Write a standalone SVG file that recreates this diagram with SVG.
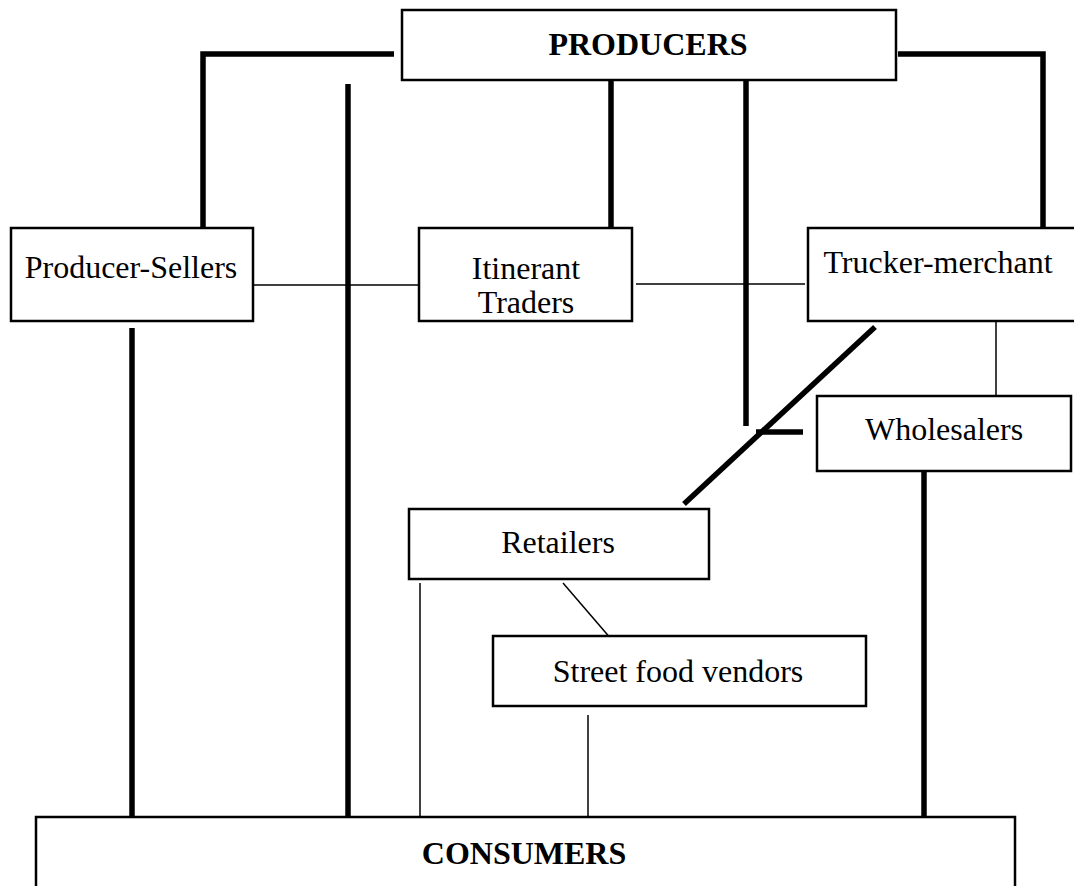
<svg xmlns="http://www.w3.org/2000/svg" width="1074" height="886" viewBox="0 0 1074 886">
<style>
.box{fill:#fff;stroke:#000;stroke-width:2.5}
.t{font-family:"Liberation Serif","Times New Roman",serif;font-size:32px;fill:#000;text-anchor:middle}
.b{font-weight:bold}
.thick{stroke:#000;stroke-width:5.5;fill:none}
.thin{stroke:#000;stroke-width:1.5;fill:none}
</style>
<rect width="1074" height="886" fill="#fff"/>
<g id="connectors">
<polyline class="thick" points="394,54 203,54 203,229"/>
<polyline class="thick" points="898,54 1043,54 1043,229"/>
<line class="thick" x1="348" y1="84" x2="348" y2="830"/>
<line class="thick" x1="611" y1="80" x2="611" y2="230"/>
<line class="thick" x1="746" y1="68" x2="746" y2="426"/>
<line class="thin" x1="253" y1="285" x2="420" y2="285"/>
<line class="thin" x1="636" y1="284" x2="805" y2="284"/>
<line class="thick" x1="132" y1="328" x2="132" y2="825"/>
<line class="thick" x1="875" y1="327" x2="684" y2="504"/>
<line class="thick" x1="756" y1="432" x2="803" y2="432"/>
<line class="thin" x1="996" y1="313" x2="996" y2="409"/>
<line class="thick" x1="924" y1="457" x2="924" y2="824"/>
<line class="thin" x1="420" y1="583" x2="420" y2="820"/>
<line class="thin" x1="563" y1="583" x2="612" y2="640"/>
<line class="thin" x1="588" y1="715" x2="588" y2="818"/>
</g>
<g id="producers">
<rect class="box" x="402" y="10" width="494" height="70"/>
<text class="t b" x="648" y="55">PRODUCERS</text>
</g>
<g id="producer-sellers">
<rect class="box" x="11" y="228" width="242" height="93"/>
<text class="t" x="131" y="278">Producer-Sellers</text>
</g>
<g id="itinerant-traders">
<rect class="box" x="419" y="228" width="213" height="93"/>
<text class="t" x="526" y="279">Itinerant</text>
<text class="t" x="526" y="313">Traders</text>
</g>
<g id="trucker-merchant">
<rect class="box" x="808" y="228" width="270" height="93"/>
<text class="t" x="938" y="273">Trucker-merchant</text>
</g>
<g id="wholesalers">
<rect class="box" x="817" y="396" width="254" height="75"/>
<text class="t" x="944" y="440">Wholesalers</text>
</g>
<g id="retailers">
<rect class="box" x="409" y="509" width="300" height="70"/>
<text class="t" x="558" y="553">Retailers</text>
</g>
<g id="street-food-vendors">
<rect class="box" x="493" y="636" width="373" height="70"/>
<text class="t" x="678" y="682">Street food vendors</text>
</g>
<g id="consumers">
<rect class="box" x="36" y="817" width="979" height="90"/>
<text class="t b" x="524" y="864">CONSUMERS</text>
</g>
</svg>
